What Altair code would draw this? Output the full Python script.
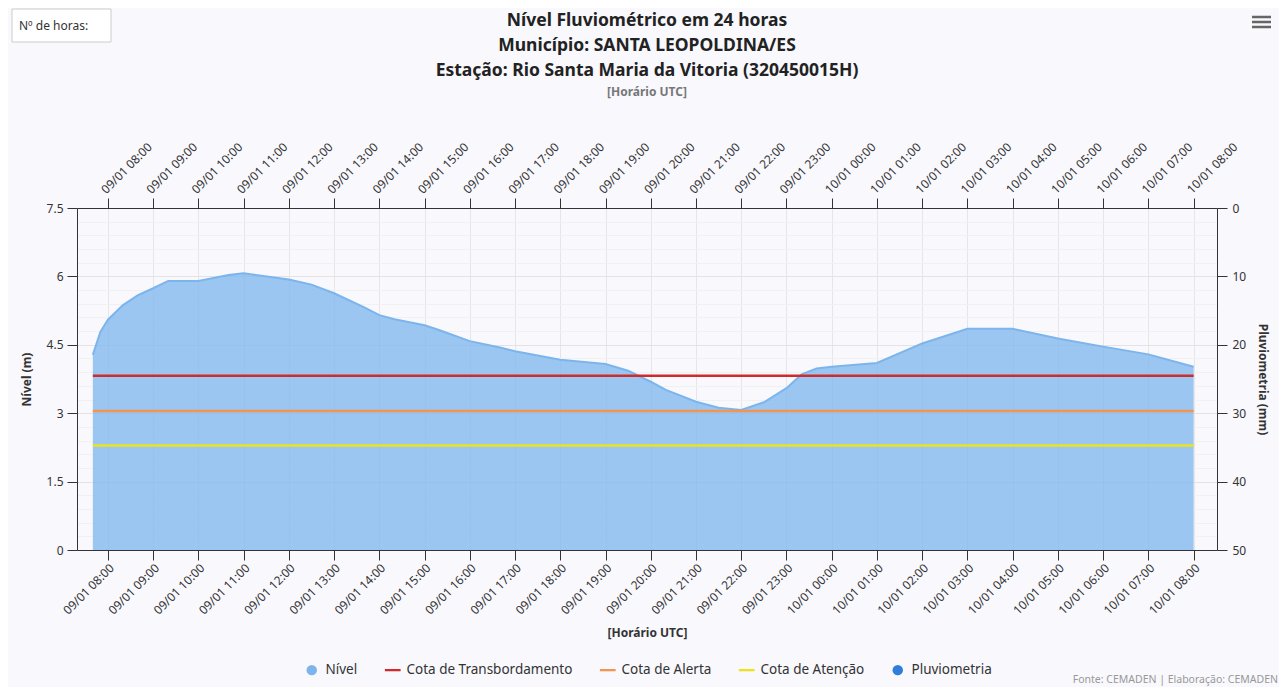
import altair as alt
import pandas as pd

# ---------------- data ----------------
nivel_horas = [
    "2024-01-09T07:40:00Z", "2024-01-09T07:50:00Z", "2024-01-09T08:00:00Z", "2024-01-09T08:20:00Z",
    "2024-01-09T08:40:00Z", "2024-01-09T09:00:00Z", "2024-01-09T09:20:00Z", "2024-01-09T10:00:00Z",
    "2024-01-09T10:40:00Z", "2024-01-09T11:00:00Z", "2024-01-09T12:00:00Z", "2024-01-09T12:30:00Z",
    "2024-01-09T13:00:00Z", "2024-01-09T13:40:00Z", "2024-01-09T14:00:00Z", "2024-01-09T14:20:00Z",
    "2024-01-09T15:00:00Z", "2024-01-09T15:20:00Z", "2024-01-09T16:00:00Z", "2024-01-09T16:40:00Z",
    "2024-01-09T17:00:00Z", "2024-01-09T18:00:00Z", "2024-01-09T19:00:00Z", "2024-01-09T19:30:00Z",
    "2024-01-09T20:00:00Z", "2024-01-09T20:20:00Z", "2024-01-09T21:00:00Z", "2024-01-09T21:30:00Z",
    "2024-01-09T22:00:00Z", "2024-01-09T22:30:00Z", "2024-01-09T23:00:00Z", "2024-01-09T23:20:00Z",
    "2024-01-09T23:40:00Z", "2024-01-10T00:00:00Z", "2024-01-10T01:00:00Z", "2024-01-10T02:00:00Z",
    "2024-01-10T03:00:00Z", "2024-01-10T04:00:00Z", "2024-01-10T05:00:00Z", "2024-01-10T06:00:00Z",
    "2024-01-10T07:00:00Z", "2024-01-10T08:00:00Z",
]
nivel_valores = [
    4.28, 4.78, 5.05, 5.37,
    5.59, 5.74, 5.90, 5.90,
    6.03, 6.07, 5.93, 5.82,
    5.63, 5.32, 5.15, 5.06,
    4.93, 4.82, 4.58, 4.44,
    4.36, 4.17, 4.08, 3.93,
    3.69, 3.51, 3.25, 3.12,
    3.07, 3.24, 3.55, 3.85,
    3.98, 4.02, 4.10, 4.53,
    4.85, 4.85, 4.64, 4.46,
    4.29, 4.02,
]

cota_nomes = ["Cota de Transbordamento", "Cota de Alerta", "Cota de Atenção"]
cota_valores = [3.82, 3.05, 2.29]

pluv_horas = [
    "2024-01-09T08:00:00Z", "2024-01-09T09:00:00Z", "2024-01-09T10:00:00Z", "2024-01-09T11:00:00Z",
    "2024-01-09T12:00:00Z", "2024-01-09T13:00:00Z", "2024-01-09T14:00:00Z", "2024-01-09T15:00:00Z",
    "2024-01-09T16:00:00Z", "2024-01-09T17:00:00Z", "2024-01-09T18:00:00Z", "2024-01-09T19:00:00Z",
    "2024-01-09T20:00:00Z", "2024-01-09T21:00:00Z", "2024-01-09T22:00:00Z", "2024-01-09T23:00:00Z",
    "2024-01-10T00:00:00Z", "2024-01-10T01:00:00Z", "2024-01-10T02:00:00Z", "2024-01-10T03:00:00Z",
    "2024-01-10T04:00:00Z", "2024-01-10T05:00:00Z", "2024-01-10T06:00:00Z", "2024-01-10T07:00:00Z",
    "2024-01-10T08:00:00Z",
]
pluv_valores = [0, 0, 0, 0, 0, 0, 0, 0, 0, 0, 0, 0, 0, 0, 0, 0, 0, 0, 0, 0, 0, 0, 0, 0, 0]

legenda_series = ["Nível", "Cota de Transbordamento", "Cota de Alerta", "Cota de Atenção", "Pluviometria"]

titulo = ["Nível Fluviométrico em 24 horas",
          "Município: SANTA LEOPOLDINA/ES",
          "Estação: Rio Santa Maria da Vitoria (320450015H)"]
subtitulo = "[Horário UTC]"
creditos = "Fonte: CEMADEN | Elaboração: CEMADEN"
rotulo_horas = "Nº de horas:"

# ---------------- styles ----------------
FONT = "Noto Sans"
COR_NIVEL = "#7cb5ec"
COR_PLUV = "#2f7ed8"
cota_cores = ["#d02b2b", "#f39550", "#ece31c"]
legenda_cores = [COR_NIVEL] + cota_cores + [COR_PLUV]
LINHA = "M-1.5,-0.22H1.5V0.22H-1.5Z"
legenda_formas = ["circle", LINHA, LINHA, LINHA, "circle"]

df_nivel = pd.DataFrame({"hora": nivel_horas, "nivel": nivel_valores})
df_cotas = pd.DataFrame({"serie": cota_nomes, "valor": cota_valores,
                         "inicio": nivel_horas[0], "fim": nivel_horas[-1]})
df_pluv = pd.DataFrame({"hora": pluv_horas, "pluv": pluv_valores})
df_leg = pd.DataFrame({"serie": legenda_series})

# ---------------- scales / axes ----------------
x_scale = alt.Scale(type="utc", padding=0,
                    domain=[alt.DateTime(year=2024, month=1, date=9, hours=7, minutes=19, utc=True),
                            alt.DateTime(year=2024, month=1, date=10, hours=8, minutes=31, utc=True)])
tick_vals = ([alt.DateTime(year=2024, month=1, date=9, hours=h, utc=True) for h in range(8, 24)]
             + [alt.DateTime(year=2024, month=1, date=10, hours=h, utc=True) for h in range(0, 9)])
rotulo_x = "utcFormat(datum.value, '%d/%m %H:%M')"

x_axis_bottom = alt.Axis(values=tick_vals, labelExpr=rotulo_x, labelAngle=-45,
                         labelOverlap=False, labelFlush=False, title="[Horário UTC]",
                         titleFontWeight="bold", titleFontSize=12, titlePadding=11,
                         tickSize=10, labelPadding=2, grid=True, gridColor="#e6e6e6")
x_axis_top = alt.Axis(values=tick_vals, labelExpr=rotulo_x, labelAngle=-45,
                      labelOverlap=False, labelFlush=False, title=None, orient="top",
                      tickSize=10, labelPadding=2, grid=False)

major = "abs(datum.value/1.5 - round(datum.value/1.5)) < 0.001"
grade_y = [round(0.3 * i, 1) for i in range(26)]
y_scale = alt.Scale(domain=[0, 7.5], nice=False, zero=True, padding=0)
y_axis_left = alt.Axis(values=grade_y, format="~g", title="Nível (m)",
                       labelExpr=f"{major} ? datum.label : ''",
                       tickOpacity={"condition": {"test": major, "value": 1}, "value": 0},
                       gridColor={"condition": {"test": major, "value": "#e3e3e3"}, "value": "#f1f1f1"},
                       tickSize=10, labelPadding=4, titlePadding=13,
                       titleFontWeight="bold", titleFontSize=12)
y_axis_right = alt.Axis(values=[0, 10, 20, 30, 40, 50], orient="right", title="Pluviometria (mm)",
                        grid=False, tickSize=10, labelPadding=5, titlePadding=10,
                        titleFontWeight="bold", titleFontSize=12)

x_enc = alt.X("hora:T", scale=x_scale, axis=x_axis_bottom)

area = alt.Chart(df_nivel).mark_area(
    color=COR_NIVEL, fillOpacity=0.75,
    line={"color": COR_NIVEL, "strokeWidth": 2}
).encode(x=x_enc, y=alt.Y("nivel:Q", scale=y_scale, axis=y_axis_left))

cotas = []
for nome, cor in zip(cota_nomes, cota_cores):
    cotas.append(
        alt.Chart(df_cotas).transform_filter(alt.datum.serie == nome)
        .mark_rule(color=cor, strokeWidth=2.5)
        .encode(x=alt.X("inicio:T", scale=x_scale, axis=x_axis_bottom), x2="fim:T",
                y=alt.Y("valor:Q", scale=y_scale, axis=y_axis_left))
    )

leg = alt.Legend(title=None, orient="none", legendX=228, legendY=455, direction="horizontal",
                 symbolSize=110, symbolStrokeWidth=0, symbolOpacity=1,
                 labelFont=FONT, labelFontSize=13.5, labelColor="#333", labelOffset=7,
                 labelLimit=400, columnPadding=26)
legenda = alt.Chart(df_leg).mark_point(filled=True).encode(
    color=alt.Color("serie:N", scale=alt.Scale(domain=legenda_series, range=legenda_cores), legend=leg),
    shape=alt.Shape("serie:N", scale=alt.Scale(domain=legenda_series, range=legenda_formas), legend=leg),
    opacity=alt.value(0),
)

credito = alt.Chart(pd.DataFrame({"t": [creditos]})).mark_text(
    align="right", baseline="middle", font=FONT, fontSize=10.5, color="#999"
).encode(x=alt.value(1201), y=alt.value(472), text="t:N")

caixa = alt.Chart(pd.DataFrame({"t": [rotulo_horas]})).mark_rect(
    fill="white", stroke="#cccccc", strokeWidth=1
).encode(x=alt.value(-65), x2=alt.value(34), y=alt.value(-199), y2=alt.value(-166))
caixa_txt = alt.Chart(pd.DataFrame({"t": [rotulo_horas]})).mark_text(
    align="left", baseline="middle", font=FONT, fontSize=12, color="#333"
).encode(x=alt.value(-58), y=alt.value(-182), text="t:N")

menu = []
for yy in [-191, -186, -181]:
    menu.append(alt.Chart(pd.DataFrame({"t": [0]})).mark_rule(color="#666", strokeWidth=2.5)
                .encode(x=alt.value(1175), x2=alt.value(1194), y=alt.value(yy)))

esquerda = alt.layer(area, *cotas, legenda, credito, caixa, caixa_txt, *menu)

pluv = alt.Chart(df_pluv).mark_bar(color=COR_PLUV).encode(
    x=alt.X("hora:T", scale=x_scale, axis=x_axis_top),
    y=alt.Y("pluv:Q", scale=alt.Scale(domain=[0, 50], reverse=True, nice=False, padding=0),
            axis=y_axis_right),
)

chart = alt.layer(esquerda, pluv).resolve_scale(y="independent").resolve_axis(x="independent").properties(
    width=1140, height=342,
    autosize=alt.AutoSizeParams(type="none"),
    padding={"left": 69, "top": 200, "right": 62, "bottom": 137},
    title=alt.Title(text=titulo, subtitle=subtitulo, anchor="middle", frame="group",
                    font=FONT, fontSize=17.5, fontWeight="bold", color="#222", lineHeight=25,
                    subtitleFont=FONT, subtitleFontSize=12, subtitleFontWeight="bold",
                    subtitleColor="#777", subtitlePadding=7, offset=-89),
).configure(background="#f8f8fd").configure_view(fill="white", strokeWidth=0).configure_axis(
    labelFont=FONT, titleFont=FONT, labelFontSize=12, labelColor="#333", titleColor="#333",
    domainColor="#333", tickColor="#333"
)

chart.save("out.html", embed_options={"renderer": "svg", "actions": False})
